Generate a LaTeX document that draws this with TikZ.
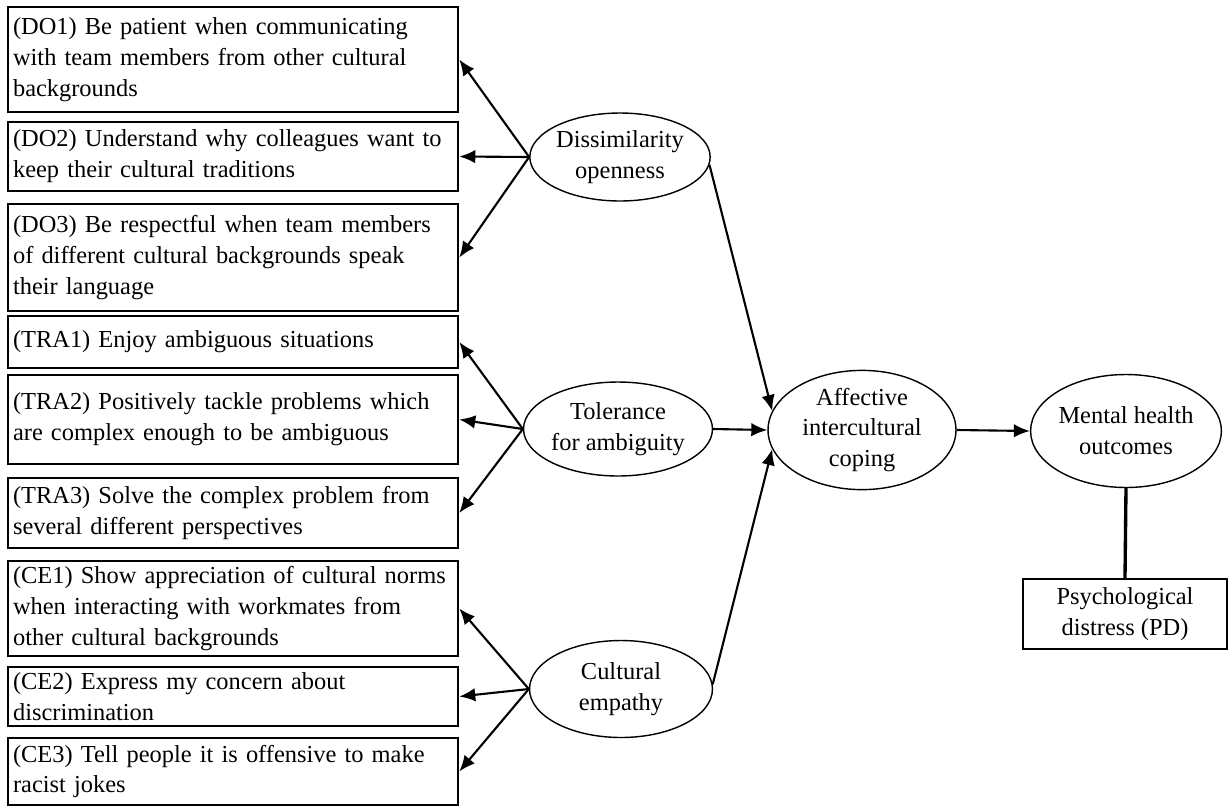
\documentclass[tikz,border=0pt]{standalone}
\usepackage{fontspec}
\setmainfont{Liberation Serif}
\usetikzlibrary{arrows.meta,shapes.geometric}
\tikzset{
  item/.style   ={draw, line width=1.5pt, text width=8.8cm, inner xsep=0.1cm,
                  inner ysep=0pt, align=left, font=\fontsize{13.9}{17.6}\selectfont},
  latent/.style ={ellipse, draw, line width=0.8pt, inner sep=0pt, align=center,
                  font=\fontsize{13.9}{17.6}\selectfont},
  outc/.style   ={draw, line width=1.3pt, minimum width=4.08cm, minimum height=1.4cm,
                  inner sep=0pt, align=center, font=\fontsize{13.9}{17.6}\selectfont},
  fl/.style     ={-{Latex[length=3.2mm,width=2.7mm]}, line width=1.2pt},
  link/.style   ={line width=1.9pt}
}

\begin{document}
\begin{tikzpicture}[x=0.02cm, y=-0.02cm]
  \useasboundingbox (0,0) rectangle (1231,809);

  % indicator items
  \node[item, minimum height=2.1cm](do1) at (233,59.5){(DO1) Be patient when communicating\\with team members from other cultural\\backgrounds};
  \node[item, minimum height=1.38cm](do2) at (233,156.5){(DO2) Understand why colleagues want to\\keep their cultural traditions};
  \node[item, minimum height=2.14cm](do3) at (233,257.5){(DO3) Be respectful when team members\\of different cultural backgrounds speak\\their language};
  \node[item, minimum height=1.04cm](tra1) at (233,342){(TRA1) Enjoy ambiguous situations};
  \node[item, minimum height=1.78cm](tra2) at (233,419.5){(TRA2) Positively tackle problems which\\are complex enough to be ambiguous};
  \node[item, minimum height=1.4cm](tra3) at (233,513){(TRA3) Solve the complex problem from\\several different perspectives};
  \node[item, minimum height=1.9cm](ce1) at (233,608.5){(CE1) Show appreciation of cultural norms\\when interacting with workmates from\\other cultural backgrounds};
  \node[item, minimum height=1.18cm](ce2) at (233,696.5){(CE2) Express my concern about\\discrimination};
  \node[item, minimum height=1.34cm](ce3) at (233,771.5){(CE3) Tell people it is offensive to make\\racist jokes};

  % constructs
  \node[latent, minimum width=3.48cm, minimum height=1.76cm](do) at (620,157){Dissimilarity\\openness};
  \node[latent, minimum width=3.6cm, minimum height=1.88cm](tra) at (618,429){Tolerance\\for ambiguity};
  \node[latent, minimum width=3.66cm, minimum height=1.94cm](ce) at (621,689){Cultural\\empathy};
  \node[latent, minimum width=3.76cm, minimum height=2.3cm](aic) at (862,430){Affective\\intercultural\\coping};
  \node[latent, minimum width=3.56cm, minimum height=2.26cm](mho) at (1126,431){Mental health\\outcomes};
  \node[outc](pd) at (1125,614){Psychological\\distress (PD)};

  \draw[fl](do.west)--(do1.east);\draw[fl](do.west)--(do2.east);\draw[fl](do.west)--(do3.east);
  \draw[fl](tra.west)--(tra1.east);\draw[fl](tra.west)--(tra2.east);\draw[fl](tra.west)--(tra3.east);
  \draw[fl](ce.west)--(ce1.east);\draw[fl](ce.west)--(ce2.east);\draw[fl](ce.west)--(ce3.east);
  \draw[fl](do.-5)--(aic.168);
  \draw[fl](tra.east)--(aic.west);
  \draw[fl](ce.3)--(aic.192);
  \draw[fl](aic.east)--(mho.west);
  \draw[link](mho.south)--(pd.north);
\end{tikzpicture}
\end{document}
